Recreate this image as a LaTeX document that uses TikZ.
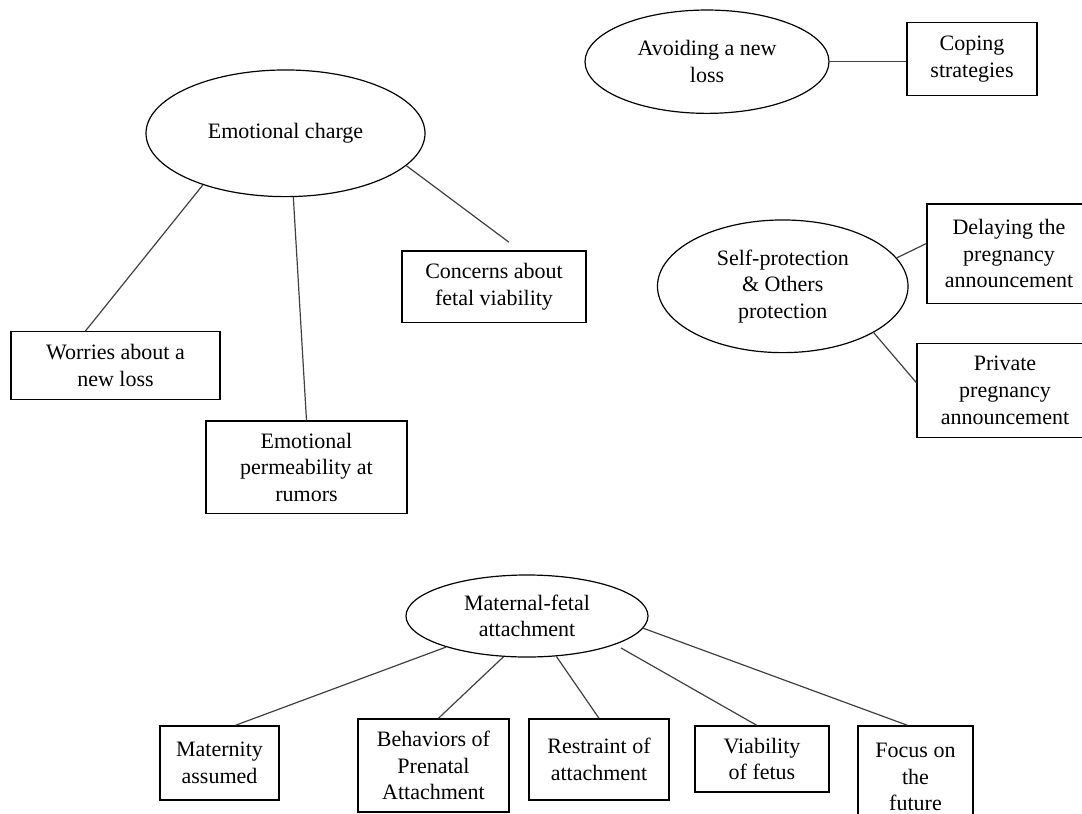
\documentclass[tikz,border=0pt]{standalone}
\usepackage{fontspec}
\setmainfont{Liberation Serif}
\usetikzlibrary{shapes.geometric}
\begin{document}
\begin{tikzpicture}[x=0.75pt,y=-0.75pt,
  every node/.style={inner sep=0pt,align=center,font=\fontsize{16.5}{20}\selectfont},
  theme/.style={draw,ellipse,line width=0.9pt},
  code/.style={draw,rectangle,line width=1.1pt},
  link/.style={line width=0.9pt,black!75}]
  \useasboundingbox (0,0) rectangle (1082,814);
  \clip (0,0) rectangle (1082,814);
  \node [theme,minimum width=209.25pt,minimum height=95pt] (emo) at (285.5,133.3) {Emotional charge};
  \node [code,minimum width=156.75pt,minimum height=50.7pt] (worries) at (115.5,365.5) {Worries about a\\new loss};
  \node [code,minimum width=150.75pt,minimum height=69.2pt] (perm) at (306.5,467.2) {Emotional\\permeability at\\rumors};
  \node [code,minimum width=138pt,minimum height=53.8pt] (concerns) at (494,286.8) {Concerns about\\fetal viability};
  \node [theme,minimum width=183pt,minimum height=77.5pt] (avoid) at (707,61.7) {Avoiding a new\\loss};
  \node [code,minimum width=97.5pt,minimum height=54.75pt] (coping) at (972,59.2) {Coping\\strategies};
  \node [theme,minimum width=187.9pt,minimum height=99.5pt] (self) at (782.75,286.3) {Self-protection\\\& Others\\protection};
  \node [code,minimum width=123pt,minimum height=74.5pt] (delay) at (1009,253.7) {Delaying the\\pregnancy\\announcement};
  \node [code,minimum width=132pt,minimum height=70.5pt] (private) at (1005,390.3) {Private\\pregnancy\\announcement};
  \node [theme,minimum width=181.5pt,minimum height=61.5pt] (mat) at (527,616) {Maternal-fetal\\attachment};
  \node [code,minimum width=89.25pt,minimum height=55.5pt] (maternity) at (219.5,763) {Maternity\\assumed};
  \node [code,minimum width=113.25pt,minimum height=69.75pt] (behav) at (433.5,765.5) {Behaviors of\\Prenatal\\Attachment};
  \node [code,minimum width=105pt,minimum height=60.75pt] (restraint) at (599,759.5) {Restraint of\\attachment};
  \node [code,minimum width=100.5pt,minimum height=49.5pt] (viab) at (762,759) {Viability\\of fetus};
  \node [code,minimum width=86.25pt,minimum height=76.5pt] (focus) at (915.5,777) {Focus on\\the\\future};
  \draw [link] (emo.212) -- (worries.131);
  \draw [link] (emo.277) -- (perm.north);
  \draw [link,shorten >=10pt] (emo.345) -- (concerns.55);
  \draw [link] (avoid.east) -- (avoid.east -| coping.west);
  \draw [link] (self.14) -- (delay.173);
  \draw [link] (self.333) -- (private.175);
  \draw [link] (mat.201) -- (maternity.67);
  \draw [link] (mat.240) -- (behav.84);
  \draw [link] (mat.306) -- (restraint.north);
  \draw [link,shorten <=5pt] (mat.342) -- (viab.99);
  \draw [link] (mat.354) -- (focus.99);
\end{tikzpicture}
\end{document}
